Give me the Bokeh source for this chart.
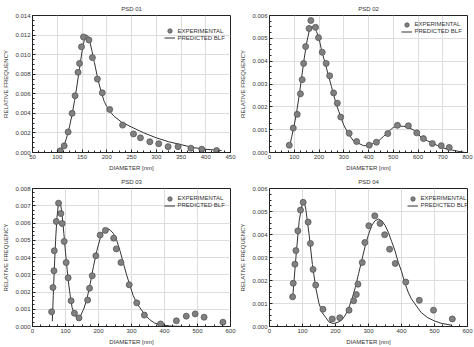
from bokeh.plotting import figure
from bokeh.layouts import gridplot
from bokeh.models import FixedTicker, NumeralTickFormatter, Legend, LegendItem
from bokeh.embed import file_html
from bokeh.resources import INLINE

# ---------------- data ----------------
titles = ["PSD 01", "PSD 02", "PSD 03", "PSD 04"]

exp1_x = [106, 114, 122, 130, 136, 142, 145, 149, 153, 164, 171, 181, 191, 206, 232, 254, 268, 287, 305, 324, 344, 370, 392, 422]
exp1_y = [0.00017, 0.00068, 0.0021, 0.0040, 0.0058, 0.0082, 0.0091, 0.0108, 0.0118, 0.0115, 0.0097, 0.0075, 0.0061, 0.0044, 0.0028, 0.0019, 0.0015, 0.0011, 0.0009, 0.0006, 0.0006, 0.00044, 0.00034, 0.0002]
fit1_x = [110, 115, 120, 125, 130, 135, 140, 145, 150, 155, 158, 162, 166, 170, 175, 180, 185, 190, 195, 200, 206, 215, 230, 250, 275, 300, 325, 350, 375, 400, 432]
fit1_y = [0.0004, 0.0009, 0.0017, 0.0027, 0.0039, 0.0053, 0.0069, 0.0086, 0.0103, 0.0116, 0.0120, 0.0119, 0.0113, 0.0104, 0.0092, 0.0080, 0.0069, 0.0060, 0.0052, 0.0047, 0.0042, 0.0037, 0.0031, 0.0026, 0.0020, 0.0015, 0.0011, 0.0008, 0.0005, 0.00033, 0.0002]

exp2_x = [80, 96, 112, 125, 132, 138, 146, 160, 167, 186, 198, 213, 229, 243, 259, 274, 288, 322, 352, 403, 432, 478, 517, 561, 595, 622, 658, 694, 726]
exp2_y = [0.00032, 0.00107, 0.00167, 0.00257, 0.00319, 0.0039, 0.00464, 0.00543, 0.00578, 0.00548, 0.00503, 0.00439, 0.0039, 0.00336, 0.00261, 0.00216, 0.00155, 0.00084, 0.00048, 0.00032, 0.00045, 0.00083, 0.00119, 0.00117, 0.00086, 0.00061, 0.00039, 0.0003, 0.00022]
fit2_x = [80, 90, 100, 110, 120, 130, 140, 150, 160, 170, 180, 190, 200, 210, 220, 230, 240, 250, 260, 270, 280, 290, 300, 320, 340, 360, 380, 400, 420, 440, 460, 480, 500, 520, 540, 560, 580, 600, 620, 640, 660, 680, 700, 740, 790]
fit2_y = [0.0002, 0.0007, 0.0012, 0.0018, 0.0025, 0.0033, 0.0041, 0.0048, 0.0053, 0.0055, 0.0055, 0.0053, 0.0050, 0.0045, 0.0041, 0.0037, 0.0033, 0.0029, 0.0025, 0.0021, 0.0018, 0.0015, 0.0012, 0.0008, 0.0005, 0.0004, 0.0003, 0.0003, 0.0004, 0.0005, 0.0007, 0.0009, 0.0011, 0.00115, 0.00115, 0.0011, 0.0010, 0.0008, 0.0006, 0.0005, 0.0004, 0.0003, 0.0002, 0.0001, 0.0]

exp3_x = [58, 62, 65, 66, 72, 79, 86, 90, 96, 102, 108, 117, 127, 141, 167, 173, 181, 192, 205, 221, 246, 254, 268, 293, 316, 339, 388, 436, 466, 493, 520, 577]
exp3_y = [0.00085, 0.00226, 0.00323, 0.00439, 0.00609, 0.00715, 0.00655, 0.00597, 0.00493, 0.00371, 0.00282, 0.00149, 0.00077, 0.0005, 0.00153, 0.00222, 0.00294, 0.0041, 0.0053, 0.00557, 0.00512, 0.0045, 0.00371, 0.00242, 0.00137, 0.00066, 0.00015, 0.00033, 0.0006, 0.00073, 0.00054, 0.00025]
fit3_x = [60, 63, 66, 70, 74, 78, 82, 86, 90, 95, 100, 105, 110, 115, 120, 125, 130, 138, 145, 155, 165, 175, 185, 195, 205, 215, 225, 235, 245, 255, 265, 275, 285, 295, 305, 315, 325, 340, 355, 370, 390, 420, 460]
fit3_y = [0.0003, 0.0018, 0.0033, 0.0050, 0.0063, 0.0070, 0.0072, 0.0070, 0.0064, 0.0054, 0.0043, 0.0033, 0.0024, 0.0017, 0.0011, 0.0008, 0.0006, 0.0005, 0.0006, 0.0010, 0.0016, 0.0025, 0.0035, 0.0044, 0.0051, 0.0055, 0.0057, 0.0056, 0.0054, 0.0050, 0.0044, 0.0037, 0.0030, 0.0024, 0.0018, 0.0014, 0.0011, 0.0007, 0.0004, 0.0002, 0.0001, 0.00002, 0.0]

exp4_x = [70, 72, 77, 80, 86, 94, 102, 117, 124, 132, 140, 162, 190, 213, 241, 255, 263, 268, 281, 289, 301, 319, 335, 349, 364, 381, 413, 454, 497, 554]
exp4_y = [0.00129, 0.00188, 0.00271, 0.0033, 0.00416, 0.00506, 0.0054, 0.00454, 0.00361, 0.00248, 0.0018, 0.00075, 0.00033, 0.00038, 0.00071, 0.00112, 0.00139, 0.00184, 0.00278, 0.00365, 0.00438, 0.00481, 0.00448, 0.00399, 0.00336, 0.00274, 0.00193, 0.00114, 0.00071, 0.00033]
fit4_x = [70, 80, 90, 100, 104, 110, 120, 130, 140, 150, 160, 170, 180, 192, 200, 210, 220, 230, 240, 250, 260, 270, 280, 290, 300, 310, 320, 330, 340, 350, 360, 370, 380, 390, 400, 410, 420, 430, 440, 450, 460, 480, 500, 520, 550]
fit4_y = [0.0012, 0.0030, 0.0046, 0.0054, 0.0055, 0.0051, 0.0040, 0.0027, 0.0017, 0.0010, 0.0006, 0.0004, 0.0002, 0.00013, 0.00015, 0.0002, 0.0003, 0.0005, 0.0008, 0.0012, 0.0017, 0.0023, 0.0029, 0.0035, 0.0040, 0.0044, 0.0046, 0.00467, 0.0046, 0.0044, 0.0041, 0.0037, 0.0033, 0.0028, 0.0024, 0.0019, 0.0015, 0.0012, 0.0010, 0.0008, 0.0006, 0.00038, 0.00024, 0.00014, 0.00006]

x_ranges = [(50, 450), (0, 800), (0, 600), (0, 600)]
y_ranges = [(0, 0.014), (0, 0.006), (0, 0.008), (0, 0.006)]
x_ticks = [[50, 100, 150, 200, 250, 300, 350, 400, 450],
           [0, 100, 200, 300, 400, 500, 600, 700, 800],
           [0, 100, 200, 300, 400, 500, 600],
           [0, 100, 200, 300, 400, 500, 600]]
y_ticks = [[0.0, 0.002, 0.004, 0.006, 0.008, 0.010, 0.012, 0.014],
           [0.0, 0.001, 0.002, 0.003, 0.004, 0.005, 0.006],
           [0.0, 0.001, 0.002, 0.003, 0.004, 0.005, 0.006, 0.007, 0.008],
           [0.0, 0.001, 0.002, 0.003, 0.004, 0.005, 0.006]]

exps = [(exp1_x, exp1_y), (exp2_x, exp2_y), (exp3_x, exp3_y), (exp4_x, exp4_y)]
fits = [(fit1_x, fit1_y), (fit2_x, fit2_y), (fit3_x, fit3_y), (fit4_x, fit4_y)]

# legend placement (screen px inside each frame: glyph centre x, first row centre from top)
legend_pos = [(137, 16.5), (137, 10), (137, 10), (143, 10)]

FONT = "Liberation Sans"
TXT = "#333333"


def small_legend(label, renderer, x, y):
    lg = Legend(items=[LegendItem(label=label, renderers=[renderer])], location=(x, y))
    lg.border_line_color = None
    lg.background_fill_alpha = 0
    lg.label_text_font = FONT
    lg.label_text_font_size = "6px"
    lg.label_text_color = TXT
    lg.glyph_width = 11
    lg.glyph_height = 13
    lg.label_height = 7
    lg.label_standoff = 3
    lg.spacing = 0
    lg.padding = 0
    lg.margin = 0
    return lg


def make_panel(i, h):
    bottom = 20 if h == 173 else 21
    p = figure(width=237, height=h, x_range=x_ranges[i], y_range=y_ranges[i],
               output_backend="svg", toolbar_location=None,
               min_border_left=29, min_border_right=7, min_border_top=15,
               min_border_bottom=bottom)
    p.title.text = titles[i]
    p.title.align = "center"
    p.title.text_font = FONT
    p.title.text_font_size = "6px"
    p.title.text_font_style = "normal"
    p.title.text_color = TXT
    p.title.offset = 0
    p.title.standoff = 7
    p.background_fill_color = "white"
    p.border_fill_color = "white"
    p.outline_line_color = "#222222"
    p.outline_line_width = 1
    p.grid.grid_line_color = "#dddddd"
    p.grid.grid_line_width = 1

    xt = x_ticks[i]
    yt = y_ticks[i]
    xminor = []
    for a, b in zip(xt[:-1], xt[1:]):
        xminor += [a + (b - a) * k / 4 for k in range(1, 4)]
    yminor = []
    for a, b in zip(yt[:-1], yt[1:]):
        yminor += [a + (b - a) * k / 4 for k in range(1, 4)]
    p.xaxis.ticker = FixedTicker(ticks=xt, minor_ticks=xminor)
    p.yaxis.ticker = FixedTicker(ticks=yt, minor_ticks=yminor)
    p.yaxis.formatter = NumeralTickFormatter(format="0.000")

    for ax in (p.xaxis, p.yaxis):
        ax.axis_line_color = "#222222"
        ax.major_tick_line_color = "#222222"
        ax.minor_tick_line_color = "#222222"
        ax.major_tick_in = 3
        ax.major_tick_out = 0
        ax.minor_tick_in = 2
        ax.minor_tick_out = 0
        ax.major_label_text_font = FONT
        ax.major_label_text_font_size = "6px"
        ax.major_label_text_color = TXT
        ax.major_label_standoff = 2
        ax.axis_label_text_font = FONT
        ax.axis_label_text_font_size = "6px"
        ax.axis_label_text_font_style = "normal"
        ax.axis_label_text_color = TXT
        ax.axis_label_standoff = 3
    p.xaxis.axis_label = "DIAMETER [nm]"
    p.yaxis.axis_label = "RELATIVE FREQUENCY"

    fx, fy = fits[i]
    ex, ey = exps[i]
    r_line = p.line(fx, fy, line_color="#333333", line_width=1)
    r_pts = p.scatter(ex, ey, size=6, fill_color="#808080", line_color="#555555", line_width=0.8)

    frame_h = h - 15 - bottom
    gx, gy = legend_pos[i]
    lx = gx - 5.5
    y1 = frame_h - gy - 6.5
    y2 = y1 - 7
    p.add_layout(small_legend("EXPERIMENTAL", r_pts, lx, y1))
    p.add_layout(small_legend("PREDICTED BLF", r_line, lx, y2))
    return p


p1 = make_panel(0, 173)
p2 = make_panel(1, 173)
p3 = make_panel(2, 174)
p4 = make_panel(3, 174)

layout = gridplot([[p1, p2], [p3, p4]], toolbar_location=None)
open("out.html", "w").write(file_html(layout, INLINE))
